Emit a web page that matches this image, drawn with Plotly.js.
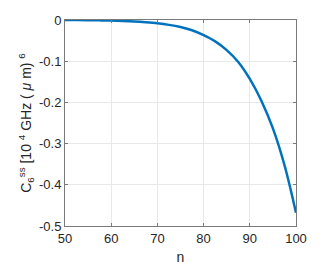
<!DOCTYPE html>
<html>
<head>
<meta charset="utf-8">
<script src="https://cdn.plot.ly/plotly-3.0.1.min.js"></script>
<style>html,body{margin:0;padding:0;background:#fff;}#chart{width:327px;height:267px;}</style>
</head>
<body>
<div id="chart"></div>
<script>
// Data
const nValues = [50, 52.5, 55, 57.5, 60, 62.5, 65, 67.5, 70, 72.5, 75, 77.5, 80, 82.5, 85, 87.5, 90, 92.5, 95, 97.5, 100];
const c6Values = [-0.0002, -0.0003, -0.0005, -0.0009, -0.0014, -0.0023, -0.0036, -0.0055, -0.008, -0.0118, -0.0172, -0.025, -0.037, -0.052, -0.073, -0.102, -0.143, -0.196, -0.263, -0.352, -0.468];
const xTicks = [50, 60, 70, 80, 90, 100];
const yTicks = [0, -0.1, -0.2, -0.3, -0.4, -0.5];
const yTickText = ['0', '-0.1', '-0.2', '-0.3', '-0.4', '-0.5'];

const font = {family: 'Liberation Sans, Arial, sans-serif', size: 13, color: '#262626'};
const titleFont = {family: 'Liberation Sans, Arial, sans-serif', size: 14, color: '#262626'};

const trace = {
  x: nValues, y: c6Values, type: 'scatter', mode: 'lines',
  line: {color: '#0072BD', width: 2.5, shape: 'spline', smoothing: 1},
  hoverinfo: 'none'
};

const axisCommon = {
  showline: true, mirror: 'ticks', linecolor: '#7a7a7a', linewidth: 1,
  ticks: 'inside', ticklen: 3, tickcolor: '#7a7a7a',
  showgrid: true, gridcolor: '#e8e8e8', gridwidth: 1,
  zeroline: false, tickfont: font, fixedrange: true
};

const layout = {
  width: 327, height: 267,
  margin: {l: 65, r: 31, t: 20, b: 41},
  paper_bgcolor: '#ffffff', plot_bgcolor: '#ffffff',
  showlegend: false,
  font: font,
  xaxis: Object.assign({}, axisCommon, {
    range: [50, 100], tickvals: xTicks, ticktext: xTicks.map(String),
    title: {text: 'n', font: titleFont, standoff: 7}
  }),
  yaxis: Object.assign({}, axisCommon, {
    range: [-0.5, 0], tickvals: yTicks, ticktext: yTickText,
    title: {text: 'C<sub>6</sub><sup>ss</sup> [10 <sup>4</sup> GHz ( <i>μ</i> m) <sup>6</sup>', font: titleFont, standoff: 4}
  })
};

Plotly.newPlot('chart', [trace], layout, {staticPlot: true, displayModeBar: false});
</script>
</body>
</html>
